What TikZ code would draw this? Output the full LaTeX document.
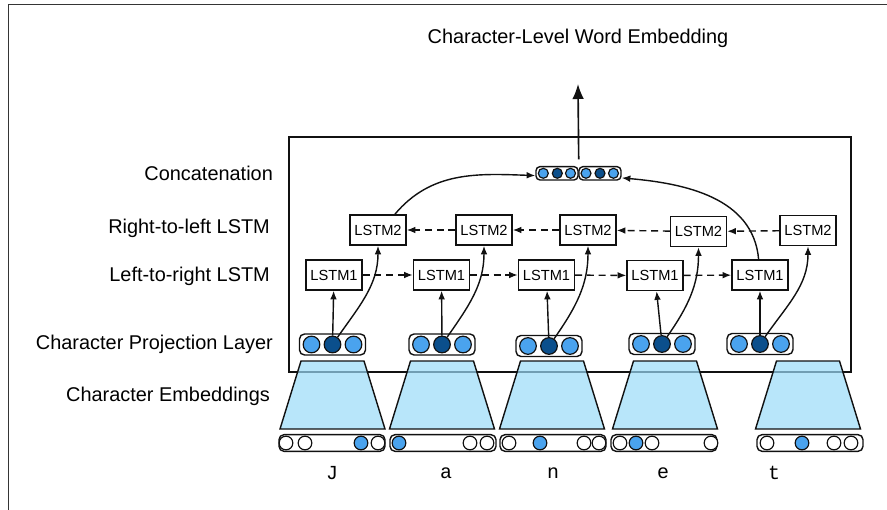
\documentclass[tikz,border=0pt]{standalone}
\usepackage{fontspec}
\setmainfont{Liberation Sans}
\newfontfamily\charfont{Liberation Mono}
\usetikzlibrary{arrows.meta,positioning,calc}
\definecolor{Ink}{HTML}{111111}
\definecolor{Light}{HTML}{4AA3EE}
\definecolor{Deep}{HTML}{0B4F8C}
\definecolor{Sky}{HTML}{9ADBF8}
\tikzset{
  lstm/.style={draw=Ink, line width=1.2pt, fill=white, minimum width=1.68cm, minimum height=0.9cm, inner sep=0pt, font=\fontsize{12.5}{14}\selectfont},
  layer/.style={anchor=east, font=\fontsize{17}{20}\selectfont},
  vecbox/.style={draw=Ink, line width=1.2pt, fill=white, rounded corners=0.15cm, inner sep=0pt},
  cell/.style={circle, draw=Ink, line width=1pt, inner sep=0pt},
  arr/.style={Ink, line width=1.2pt, -{Latex[length=2.6mm,width=2mm]}},
  recur/.style={arr, dash pattern=on 6pt off 4pt},
  letter/.style={font=\charfont\fontsize{17}{20}\selectfont},
}
\newcommand{\projvec}[3]{
  \node[vecbox, minimum width=1.98cm, minimum height=0.63cm] (#1) at (#2,#3) {};
  \node[cell, minimum size=0.5cm, fill=Light] (#1a) at ($(#1)+(-21,0)$) {};
  \node[cell, minimum size=0.5cm, fill=Deep] (#1b) at (#1) {};
  \node[cell, minimum size=0.5cm, fill=Light] (#1c) at ($(#1)+(21,0)$) {};
}
\newcommand{\embed}[1]{
  \filldraw[fill=Sky, fill opacity=0.7, draw=Ink, line width=1.2pt] (#1-31.5,-361) -- (#1+31.5,-361) -- (#1+52.5,-429) -- (#1-52.5,-429) -- cycle;
}
\newcommand{\onehot}[3]{
  \node[vecbox, minimum width=3.18cm, minimum height=0.5cm] (#1) at (#2,-443) {};
  \foreach \cx/\col [count=\k] in {#3}
    \node[cell, minimum size=0.41cm, fill=\col] (#1c\k) at (\cx,-443) {};
}

\begin{document}
\begin{tikzpicture}[x=0.03cm, y=0.03cm]
        \useasboundingbox (0,0) rectangle (887,-510);
        \draw[Ink!85, line width=1.3pt] (8.5,-510) -- (8.5,-4.5) -- (887,-4.5);
        \draw[Ink, line width=1.2pt] (289,-137) rectangle (851,-372);

        \node[font=\fontsize{17}{20}\selectfont] (title) at (578,-38) {Character-Level Word Embedding};
        \node[layer] (lconcat) at (277,-173) {Concatenation};
        \node[layer] (lrtl) at (274,-228) {Right-to-left LSTM};
        \node[layer] (lltr) at (274,-276) {Left-to-right LSTM};
        \node[layer] (lproj) at (277,-344) {Character Projection Layer};
        \node[layer] (lemb) at (274,-396) {Character Embeddings};

        \embed{332.5}
        \embed{442}
        \embed{552}
        \embed{665}
        \embed{808}

        \onehot{oh1}{332}{286/white,305/white,361/Light,378/white}
        \onehot{oh2}{443}{399/Light,470/white,487/white}
        \onehot{oh3}{553}{509/white,540/Light,584/white,599/white}
        \onehot{oh4}{664}{620/white,636/Light,652/white,711/white}
        \onehot{oh5}{810}{767/white,802/Light,834/white,851/white}

        \node[letter] (chJ) at (332,-473) {J};
        \node[letter] (cha) at (446,-473) {a};
        \node[letter] (chn) at (553,-473) {n};
        \node[letter] (che) at (663,-473) {e};
        \node[letter] (cht) at (774,-473) {t};

        \projvec{p1}{332.5}{-344.5}
        \projvec{p2}{442}{-344.5}
        \projvec{p3}{549}{-346}
        \projvec{p4}{662}{-344}
        \projvec{p5}{760}{-344}

        \node[lstm] (l1) at (334,-275) {LSTM1};
        \node[lstm] (l2) at (441.5,-275) {LSTM1};
        \node[lstm] (l3) at (546.5,-275) {LSTM1};
        \node[lstm] (l4) at (655,-275.5) {LSTM1};
        \node[lstm] (l5) at (760,-275) {LSTM1};
        \node[lstm] (r1) at (378,-230) {LSTM2};
        \node[lstm] (r2) at (484,-230) {LSTM2};
        \node[lstm] (r3) at (588,-230) {LSTM2};
        \node[lstm] (r4) at (698.5,-231.5) {LSTM2};
        \node[lstm] (r5) at (808,-230.5) {LSTM2};

        \node[vecbox, minimum width=1.26cm, minimum height=0.4cm, rounded corners=0.12cm] (ca) at (557,-173.3) {};
        \node[vecbox, minimum width=1.26cm, minimum height=0.4cm, rounded corners=0.12cm] (cb) at (600,-173.3) {};
        \node[cell, minimum size=0.3cm, fill=Light] (ca1) at (543.3,-173.3) {};
        \node[cell, minimum size=0.3cm, fill=Deep] (ca2) at (557.3,-173.3) {};
        \node[cell, minimum size=0.3cm, fill=Light] (ca3) at (570.5,-173.3) {};
        \node[cell, minimum size=0.3cm, fill=Light] (cb1) at (586,-173.3) {};
        \node[cell, minimum size=0.3cm, fill=Deep] (cb2) at (600,-173.3) {};
        \node[cell, minimum size=0.3cm, fill=Light] (cb3) at (613.5,-173.3) {};

        \foreach \i in {1,...,5} {
          \draw[arr] (p\i b) -- (l\i);
          \draw[arr] (p\i b) to[out=55, in=-90] (r\i);
        }
        \foreach \i/\j in {1/2,2/3,3/4,4/5} {
          \draw[recur] (l\i) -- (l\j);
          \draw[recur] (r\j) -- (r\i);
        }
        \draw[arr] (r1.43) to[out=50, in=178] (ca.186);
        \draw[arr] (l5) to[out=95, in=-5] (cb.-12);

        \coordinate (outtip) at (578,-84);
        \draw[Ink, line width=1.4pt, -{Latex[length=4.5mm,width=3.5mm]}] ([yshift=0.2cm]ca.north east) -- (outtip);
      \end{tikzpicture}
\end{document}
